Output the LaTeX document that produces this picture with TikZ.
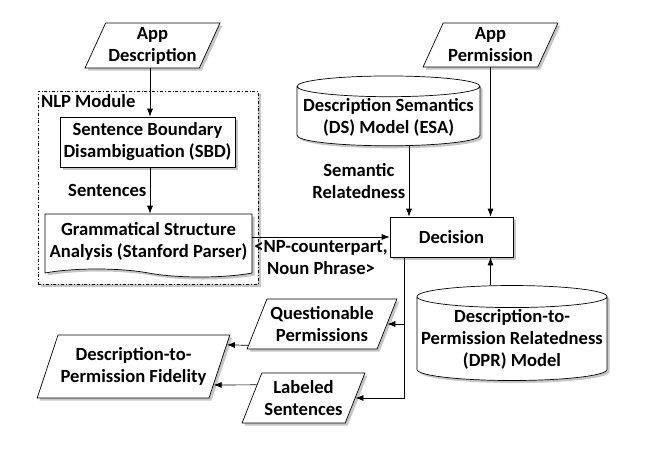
\documentclass[tikz,border=0pt]{standalone}
\usepackage{fontspec}
\setmainfont{Carlito}
\usepackage{tikz}
\usetikzlibrary{shapes.geometric,shapes.symbols,shadows,calc,arrows.meta}

\begin{document}
\begin{tikzpicture}[x=1pt,y=-1pt,
    font=\fontsize{18.6}{22}\selectfont\bfseries,
    >={Latex[length=8pt,width=6pt]},
    every path/.style={line width=0.7pt},
    shade/.style={drop shadow={opacity=0.45,shadow xshift=2.5pt,shadow yshift=-2.5pt}},
    box/.style={draw, fill=white, shade, align=center, inner sep=1pt},
    iobox/.style={box, trapezium, trapezium left angle=63, trapezium right angle=117,
        trapezium stretches=true},
    dbase/.style={box, cylinder, shape border rotate=90, aspect=0.12},
    docbox/.style={box, tape, tape bend top=none, tape bend bottom=out and in, tape bend height=8pt},
    modbox/.style={draw, dash dot, fill=white, shade}]

    \useasboundingbox (0,0) rectangle (647,450);

    % inputs
    \node[iobox, minimum width=135pt, minimum height=45pt] (appdesc) at (152.5,45.5) {App\\Description};
    \node[iobox, minimum width=135pt, minimum height=44pt] (appperm) at (490.5,45) {App\\Permission};

    % nlp module
    \node[modbox, minimum width=220pt, minimum height=193pt] (nlp) at (148,187.5) {};
    \node[anchor=north west, inner sep=3pt] (nlplbl) at (nlp.north west) {NLP Module};
    \node[box, minimum width=175pt, minimum height=50pt] (sbd) at (147.5,142) {Sentence Boundary\\Disambiguation (SBD)};
    \node[docbox, minimum width=207pt, minimum height=63pt] (gsa) at (148.5,241.5) {Grammatical Structure\\Analysis (Stanford Parser)};

    % models
    \node[dbase, minimum width=183pt, minimum height=62pt] (ds) at (388.5,117) {Description Semantics\\(DS) Model (ESA)};
    \node[dbase, minimum width=190pt, minimum height=95pt] (dpr) at (512,339.5) {Description-to-\\Permission Relatedness\\(DPR) Model};

    \node[box, minimum width=123pt, minimum height=40pt] (dec) at (451.5,237) {Decision};

    % outputs
    \node[iobox, minimum width=150pt, minimum height=50pt] (qp) at (322,324) {Questionable\\Permissions};
    \node[iobox, minimum width=123pt, minimum height=50pt] (ls) at (303.5,398) {Labeled\\Sentences};
    \node[iobox, minimum width=193pt, minimum height=63pt] (fid) at (133.5,366.5) {Description-to-\\Permission Fidelity};

    \draw[->] (appdesc.south -| 150,0) -- (sbd.north -| 150,0);
    \draw[->] (sbd.south -| 150,0) -- node[left] {Sentences} (gsa.north -| 150,0);
    \draw[->] (gsa.east |- dec.west) -- node[below, align=center] {<NP-counterpart,\\Noun Phrase>} (dec.west);

    \draw[->] (ds.south -| 409,0) -- node[left, align=center] {Semantic\\Relatedness} (dec.north -| 409,0);
    \draw[->] (appperm.south) -- (dec.north -| appperm.south);
    \draw[->] (dpr.north -| appperm.south) -- (dec.south -| appperm.south);

    \draw[->] ([xshift=15pt]dec.south west) |- (qp.east);
    \draw[->] ([xshift=15pt]dec.south west) |- (ls.east);

    \draw[->] ($(qp.bottom left corner)!0.08!(qp.top left corner)$) -- ($(fid.top right corner)!0.16!(fid.bottom right corner)$);
    \draw[->] ($(ls.top left corner)!0.24!(ls.bottom left corner)$) -- ($(fid.top right corner)!0.79!(fid.bottom right corner)$);

\end{tikzpicture}
\end{document}
